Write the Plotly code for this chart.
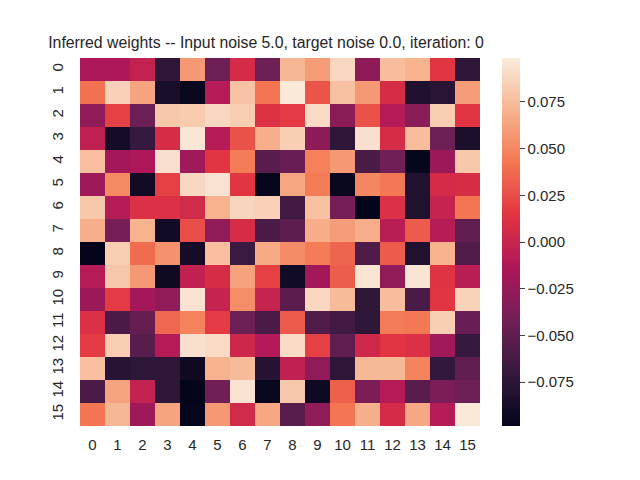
import plotly.graph_objects as go

# rocket colormap (seaborn), sampled
ROCKET = [
    [0.0, "#03051A"],
    [0.1429, "#35193E"],
    [0.2857, "#701F57"],
    [0.4286, "#AD1759"],
    [0.5714, "#E13342"],
    [0.7143, "#F37651"],
    [0.8571, "#F6B48F"],
    [1.0, "#FAEBDD"],
]

col_labels = [str(i) for i in range(16)]
row_labels = [str(i) for i in range(16)]

r0 = [-0.015, -0.013, -0.003, -0.075, 0.058, -0.044, 0.007, -0.044, 0.072, 0.060, 0.088, -0.029, 0.075, 0.070, 0.015, -0.075]
r1 = [0.040, 0.085, 0.063, -0.086, -0.095, -0.010, 0.078, 0.042, 0.097, 0.028, 0.077, 0.058, 0.008, -0.083, -0.077, 0.060]
r2 = [-0.028, 0.020, -0.044, 0.080, 0.082, 0.088, 0.083, 0.012, 0.017, 0.090, -0.030, 0.027, -0.010, -0.030, 0.083, 0.014]
r3 = [-0.005, -0.088, -0.070, 0.008, 0.096, -0.010, 0.027, 0.068, 0.084, -0.029, -0.075, 0.093, 0.008, 0.075, -0.043, -0.085]
r4 = [0.076, -0.018, -0.014, 0.093, -0.020, 0.015, 0.045, -0.053, -0.046, 0.047, 0.058, -0.060, -0.042, -0.097, -0.022, 0.080]
r5 = [-0.021, 0.051, -0.090, 0.020, 0.089, 0.094, 0.015, -0.097, 0.064, 0.045, -0.095, 0.050, 0.043, -0.082, 0.007, 0.008]
r6 = [0.080, -0.010, 0.011, 0.011, 0.005, 0.070, 0.087, 0.085, -0.065, 0.077, -0.040, -0.098, 0.011, -0.082, -0.001, 0.042]
r7 = [0.068, -0.040, 0.070, -0.090, 0.025, -0.027, 0.008, -0.060, -0.051, 0.067, 0.060, 0.068, -0.008, 0.031, -0.009, -0.050]
r8 = [-0.098, 0.083, 0.038, 0.055, -0.088, 0.076, -0.068, 0.066, 0.052, 0.045, 0.035, -0.058, 0.031, -0.082, 0.070, -0.057]
r9 = [-0.010, 0.080, 0.058, -0.092, -0.004, 0.008, 0.062, 0.020, -0.090, -0.019, 0.032, 0.095, -0.027, 0.095, 0.013, -0.008]
r10 = [-0.022, 0.017, -0.018, -0.028, 0.094, -0.001, 0.053, -0.001, -0.052, 0.088, 0.074, -0.075, 0.075, -0.060, 0.015, 0.086]
r11 = [0.011, -0.060, -0.048, 0.036, 0.048, 0.017, -0.044, -0.060, 0.031, -0.057, -0.065, -0.075, 0.045, 0.043, 0.084, -0.046]
r12 = [0.017, 0.083, -0.053, -0.010, 0.093, 0.090, 0.003, -0.012, 0.090, 0.020, -0.050, 0.004, 0.014, 0.011, -0.020, -0.070]
r13 = [0.076, -0.078, -0.075, -0.075, -0.092, 0.070, 0.074, -0.079, -0.004, -0.027, -0.075, 0.073, 0.073, 0.048, -0.072, -0.050]
r14 = [-0.060, 0.063, -0.003, -0.075, -0.098, -0.042, 0.094, -0.096, 0.080, -0.092, 0.033, -0.036, -0.010, -0.053, -0.036, -0.044]
r15 = [0.042, 0.072, -0.021, 0.063, -0.097, 0.058, 0.005, 0.065, -0.053, -0.028, 0.042, 0.068, 0.007, 0.065, -0.010, 0.097]

weights = [r0, r1, r2, r3, r4, r5, r6, r7, r8, r9, r10, r11, r12, r13, r14, r15]

cbar_vals = [-0.075, -0.05, -0.025, 0.0, 0.025, 0.05, 0.075]
cbar_text = ["\u22120.075", "\u22120.050", "\u22120.025", "0.000", "0.025", "0.050", "0.075"]

TEXT = "#262626"
FONT = "Liberation Sans, Arial, sans-serif"

fig = go.Figure(
    go.Heatmap(
        z=weights,
        x=col_labels,
        y=row_labels,
        colorscale=ROCKET,
        zmin=-0.0985,
        zmax=0.0985,
        colorbar=dict(
            x=1.055,
            xanchor="left",
            xpad=0,
            y=0.5,
            yanchor="middle",
            ypad=0,
            len=1,
            lenmode="fraction",
            thickness=18,
            outlinewidth=0,
            ticks="outside",
            ticklen=5,
            tickwidth=1.2,
            tickcolor="#444444",
            tickvals=cbar_vals,
            ticktext=cbar_text,
            tickfont=dict(size=15, color=TEXT, family=FONT),
        ),
    )
)

# page body has an 8px margin, so the plot area is pulled up/left by 8px
fig.update_layout(
    width=640,
    height=480,
    margin=dict(l=72, r=168, t=50, b=62, autoexpand=False),
    paper_bgcolor="white",
    plot_bgcolor="white",
    font=dict(family=FONT, color=TEXT),
    title=dict(
        text="Inferred weights -- Input noise 5.0, target noise 0.0, iteration: 0",
        font=dict(size=15.8, color=TEXT, family=FONT),
        x=0.465,
        xref="paper",
        xanchor="center",
        y=0.928,
        yref="container",
        yanchor="middle",
    ),
)
fig.update_xaxes(
    type="category",
    automargin=False,
    showgrid=False,
    zeroline=False,
    ticks="",
    tickfont=dict(size=15, color=TEXT),
    ticklabelstandoff=8,
)
fig.update_yaxes(
    type="category",
    automargin=False,
    autorange="reversed",
    showgrid=False,
    zeroline=False,
    ticks="",
    tickangle=-90,
    tickfont=dict(size=15, color=TEXT),
    ticklabelstandoff=13,
)

fig.write_html("out.html")
